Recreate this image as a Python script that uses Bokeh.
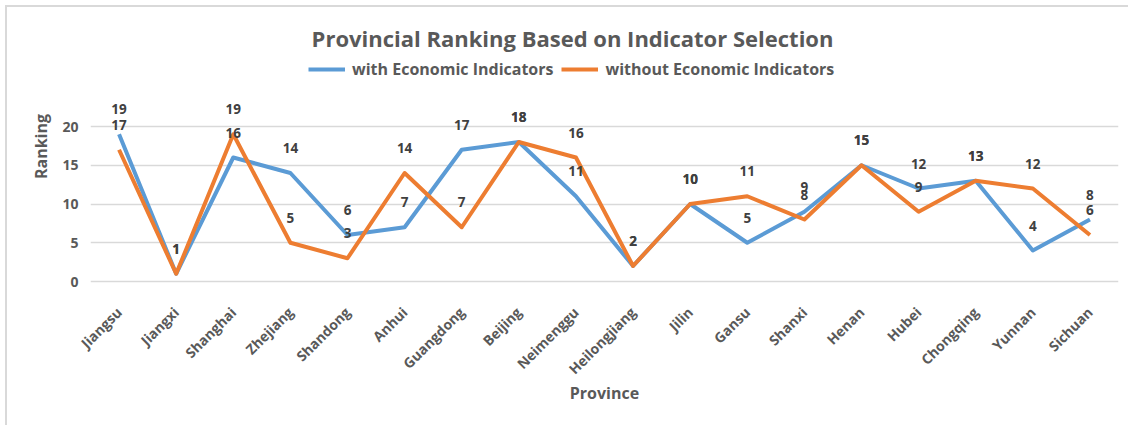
import math
from bokeh.plotting import figure
from bokeh.models import Range1d, FactorRange, FixedTicker, Legend, LegendItem, Label
from bokeh.core.properties import value
from bokeh.embed import file_html
from bokeh.resources import INLINE

# ---- data ----
provinces = ["Jiangsu", "Jiangxi", "Shanghai", "Zhejiang", "Shandong", "Anhui",
             "Guangdong", "Beijing", "Neimenggu", "Heilongjiang", "Jilin", "Gansu",
             "Shanxi", "Henan", "Hubei", "Chongqing", "Yunnan", "Sichuan"]
with_econ = [19, 1, 16, 14, 6, 7, 17, 18, 11, 2, 10, 5, 9, 15, 12, 13, 4, 8]
without_econ = [17, 1, 19, 5, 3, 14, 7, 18, 16, 2, 10, 11, 8, 15, 9, 13, 12, 6]
y_ticks = [0, 5, 10, 15, 20]

series_names = ["with Economic Indicators", "without Economic Indicators"]
title_text = "Provincial Ranking Based on Indicator Selection"

FONT = "Open Sans"
TXT = "#595959"
LBL = "#404040"
BLUE = "#5B9BD5"
ORANGE = "#ED7D31"

p = figure(x_range=FactorRange(*provinces), y_range=Range1d(-0.516, 35.355),
           width=1123, height=420, output_backend="svg", toolbar_location=None,
           min_border_left=83, min_border_right=12, min_border_top=0,
           min_border_bottom=142)
p.styles = {"margin-left": "5px", "margin-top": "5px",
            "border-left": "2px solid #D9D9D9", "border-top": "2px solid #D9D9D9"}
p.outline_line_color = None
p.background_fill_color = "white"
p.border_fill_color = "white"

p.xgrid.grid_line_color = None
p.ygrid.ticker = FixedTicker(ticks=y_ticks)
p.ygrid.grid_line_color = "#D9D9D9"
p.ygrid.grid_line_width = 1.5

p.yaxis.ticker = FixedTicker(ticks=y_ticks)
for ax in (p.xaxis[0], p.yaxis[0]):
    ax.axis_line_color = None
    ax.major_tick_line_color = None
    ax.minor_tick_line_color = None
    ax.major_tick_out = 0
    ax.major_tick_in = 0
    ax.minor_tick_out = 0
    ax.minor_tick_in = 0
    ax.major_label_text_font = FONT
    ax.major_label_text_font_style = "bold"
    ax.major_label_text_color = TXT
    ax.axis_label_text_font = FONT
    ax.axis_label_text_font_style = "bold"
    ax.axis_label_text_color = TXT
    ax.axis_label_text_font_size = "16px"

p.yaxis.major_label_text_font_size = "14px"
p.yaxis.major_label_standoff = 12
p.yaxis.axis_label = "Ranking"
p.yaxis.axis_label_standoff = 7

p.xaxis.major_label_text_font_size = "14px"
p.xaxis.major_label_orientation = math.pi / 4
p.xaxis.major_label_standoff = 24
p.xaxis.axis_label = "Province"
p.xaxis.axis_label_standoff = -6

r1 = p.line(provinces, with_econ, line_color=BLUE, line_width=4, line_join="round")
r2 = p.line(provinces, without_econ, line_color=ORANGE, line_width=4, line_join="round")

for vals in (with_econ, without_econ):
    p.text(x=provinces, y=vals, text=[str(v) for v in vals], y_offset=-25,
           text_align="center", text_baseline="middle",
           text_font=value(FONT), text_font_style="bold", text_font_size="13.5px",
           text_color=LBL)

legend = Legend(items=[LegendItem(label=series_names[0], renderers=[r1]),
                       LegendItem(label=series_names[1], renderers=[r2])],
                orientation="horizontal", location=(218, 205),
                glyph_width=37, glyph_height=16, label_height=16, label_standoff=7,
                spacing=8, padding=0, margin=0, border_line_color=None,
                background_fill_alpha=0, label_text_font=FONT,
                label_text_font_style="bold", label_text_font_size="16px",
                label_text_color=TXT)
p.add_layout(legend)

p.add_layout(Label(x=482, y=248, x_units="screen", y_units="screen", text=title_text,
                   text_align="center", text_baseline="middle", text_font=FONT,
                   text_font_style="bold", text_font_size="22px", text_color=TXT))

open("out.html", "w").write(file_html(p, INLINE))
